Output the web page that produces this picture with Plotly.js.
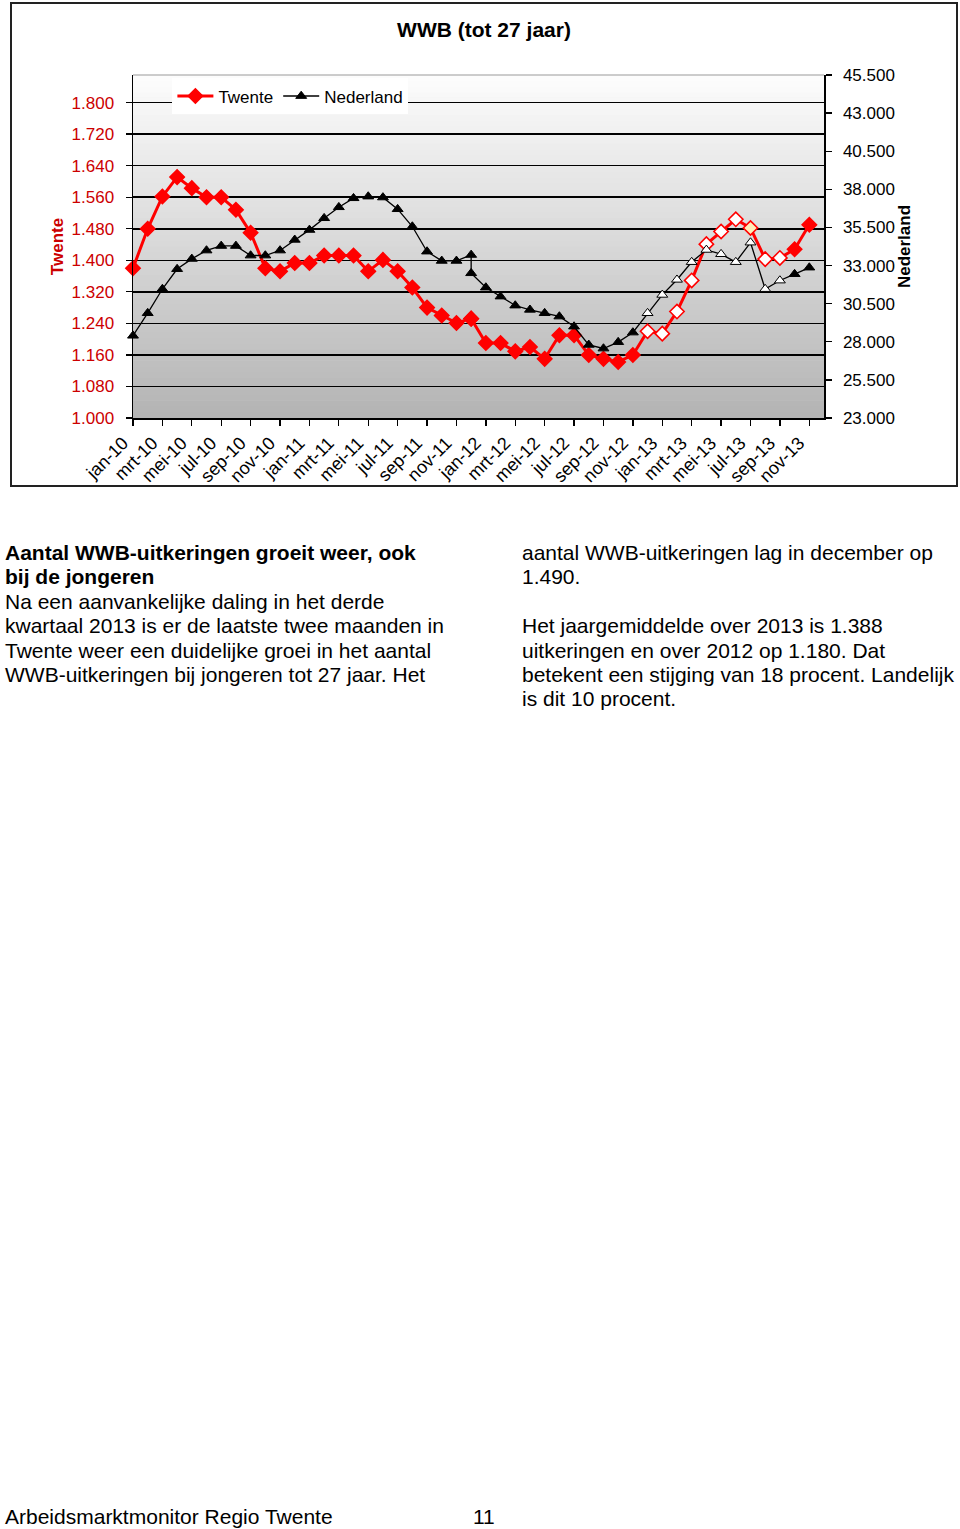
<!DOCTYPE html>
<html>
<head>
<meta charset="utf-8">
<script src="https://cdn.plot.ly/plotly-3.0.1.min.js"></script>
<style>
  html, body { margin: 0; padding: 0; background: #fff; }
  body { width: 960px; height: 1529px; position: relative; overflow: hidden;
         font-family: "Liberation Sans", Arial, sans-serif; color: #000; }
  #frame { position: absolute; left: 10px; top: 2px; width: 948px; height: 485px;
           box-sizing: border-box; border: 2px solid #222; }
  #chart { width: 944px; height: 481px; }
  .txt { position: absolute; font-size: 21px; line-height: 24.4px; white-space: nowrap; }
  .b { font-weight: bold; }
</style>
</head>
<body>
<div id="frame"><div id="chart"></div></div>

<div class="txt" style="left:5px; top:541px;">
<span class="b">Aantal WWB-uitkeringen groeit weer, ook<br>bij de jongeren</span><br>
Na een aanvankelijke daling in het derde<br>
kwartaal 2013 is er de laatste twee maanden in<br>
Twente weer een duidelijke groei in het aantal<br>
WWB-uitkeringen bij jongeren tot 27 jaar. Het
</div>
<div class="txt" style="left:522px; top:541px;">
aantal WWB-uitkeringen lag in december op<br>
1.490.<br>
<br>
Het jaargemiddelde over 2013 is 1.388<br>
uitkeringen en over 2012 op 1.180. Dat<br>
betekent een stijging van 18 procent. Landelijk<br>
is dit 10 procent.
</div>
<div class="txt" style="left:5px; top:1505px;">Arbeidsmarktmonitor Regio Twente</div>
<div class="txt" style="left:473px; top:1505px;">11</div>

<script>
// Position on the month axis of each data point (jan-12 drawn on the dec-11 slot, as in the source)
const xPositie = [
  'jan-10','feb-10','mrt-10','apr-10','mei-10','jun-10','jul-10','aug-10','sep-10','okt-10','nov-10','dec-10',
  'jan-11','feb-11','mrt-11','apr-11','mei-11','jun-11','jul-11','aug-11','sep-11','okt-11','nov-11','dec-11',
  'dec-11','jan-12','feb-12','mrt-12','apr-12','mei-12','jun-12','jul-12','aug-12','sep-12','okt-12','nov-12',
  'dec-12','jan-13','feb-13','mrt-13','apr-13','mei-13','jun-13','jul-13','aug-13','sep-13','okt-13','nov-13'
];
// Axis tick labels
const tickLabels = [
  'jan-10','mrt-10','mei-10','jul-10','sep-10','nov-10',
  'jan-11','mrt-11','mei-11','jul-11','sep-11','nov-11',
  'jan-12','mrt-12','mei-12','jul-12','sep-12','nov-12',
  'jan-13','mrt-13','mei-13','jul-13','sep-13','nov-13'
];
// WWB-uitkeringen jongeren tot 27 jaar
const twente = [
  1380,1480,1562,1611,1583,1560,1560,1528,1470,1380,1372,1393,
  1393,1412,1412,1412,1372,1401,1372,1331,1280,1260,1241,1252,
  1252,1190,1190,1169,1180,1150,1210,1210,1160,1150,1142,1160,
  1220,1214,1270,1349,1441,1473,1504,1482,1403,1406,1428,1490
];
const nederland = [
  28400,29880,31460,32770,33440,33990,34290,34290,33660,33660,33990,34690,
  35340,36110,36830,37420,37530,37470,36700,35560,33920,33310,33310,33700,
  32500,31560,30970,30380,30100,29880,29660,29000,27800,27560,27980,28610,
  29880,31080,32070,33230,34030,33750,33230,34510,31460,32020,32440,32870
];
// Data points drawn with open markers (index range) and the highlighted one
const openVan = 36, openTot = 45, gemarkeerd = 43;

const RED = '#ff0000', DARKRED = '#cc0000';
const FONT = '"Liberation Sans", Arial, sans-serif';

const twFill = twente.map((v, i) => i === gemarkeerd ? '#ffedb8' : (i >= openVan && i <= openTot ? '#ffffff' : RED));
const nlFill = nederland.map((v, i) => (i >= openVan && i <= openTot ? '#ffffff' : '#000000'));

const traces = [
  {
    name: 'Twente', x: xPositie, y: twente, type: 'scatter', mode: 'lines+markers',
    line: { color: RED, width: 3 },
    marker: { symbol: 'diamond', size: 11, color: twFill, line: { color: RED, width: 1.6 } },
    cliponaxis: false, yaxis: 'y'
  },
  {
    name: 'Nederland', x: xPositie, y: nederland, type: 'scatter', mode: 'lines+markers',
    line: { color: '#000000', width: 1.3 },
    marker: { symbol: 'triangle-up', size: 9.5, color: nlFill, line: { color: '#000000', width: 1 } },
    cliponaxis: false, yaxis: 'y2'
  }
];

// Background gradient bands (white at top to grey at bottom)
const shapes = [];
const nBands = 60;
for (let k = 0; k < nBands; k++) {
  const t = k / (nBands - 1);
  const g = Math.round(180 + (252 - 180) * t);
  shapes.push({
    type: 'rect', xref: 'x domain', yref: 'y domain', layer: 'below',
    x0: 0, x1: 1, y0: k / nBands, y1: (k + 1) / nBands + 0.002,
    fillcolor: `rgb(${g},${g},${g})`, line: { width: 0 }
  });
}
shapes.push({ type: 'line', xref: 'x domain', yref: 'y domain', x0: 0, x1: 1, y0: 1, y1: 1,
  line: { color: '#9a9a9a', width: 1 } });

const layout = {
  width: 944, height: 481,
  margin: { l: 121, r: 132, t: 71, b: 67 },
  paper_bgcolor: '#ffffff', plot_bgcolor: '#d8d8d8',
  separators: ',.',
  font: { family: FONT, size: 17, color: '#000' },
  title: { text: 'WWB (tot 27 jaar)', font: { family: FONT, size: 21, color: '#000', weight: 'bold' },
           x: 0.5, xref: 'container', y: 1 - 26 / 481, yref: 'container', yanchor: 'middle' },
  showlegend: true,
  legend: { orientation: 'h', x: 0.057, y: 0.99, xanchor: 'left', yanchor: 'top',
            bgcolor: '#ffffff', borderwidth: 0, font: { family: FONT, size: 17, color: '#000' },
            tracegroupgap: 0, itemwidth: 36 },
  xaxis: {
    type: 'category', range: [0, 47], tickmode: 'array', tickvals: tickLabels, ticktext: tickLabels,
    tickangle: -45, ticks: 'outside', ticklen: 6, tickcolor: '#000', tickwidth: 1.3, ticklabelshift: -10,
    showline: true, linecolor: '#000', linewidth: 1.5, showgrid: false, zeroline: false,
    tickfont: { family: FONT, size: 18, color: '#000' }, fixedrange: true
  },
  yaxis: {
    range: [1000, 1870], tick0: 1000, dtick: 80, tickformat: ',d',
    ticks: 'outside', ticklen: 6, tickcolor: '#000', tickwidth: 1.3, ticklabelstandoff: 8,
    showline: true, linecolor: '#000', linewidth: 1.5,
    showgrid: true, gridcolor: '#000', gridwidth: 1.5, zeroline: false,
    tickfont: { family: FONT, size: 17, color: DARKRED },
    title: { text: 'Twente', font: { family: FONT, size: 17, color: DARKRED, weight: 'bold' }, standoff: 3 },
    fixedrange: true
  },
  yaxis2: {
    overlaying: 'y', side: 'right', range: [23000, 45500], tick0: 23000, dtick: 2500, tickformat: ',d',
    ticks: 'outside', ticklen: 6, tickcolor: '#000', tickwidth: 1.3, ticklabelstandoff: 8,
    showline: true, linecolor: '#000', linewidth: 1.5, showgrid: false, zeroline: false,
    tickfont: { family: FONT, size: 17, color: '#000' },
    title: { text: 'Nederland', font: { family: FONT, size: 17, color: '#000', weight: 'bold' }, standoff: 0 },
    fixedrange: true
  },
  shapes: shapes
};

Plotly.newPlot('chart', traces, layout, { staticPlot: true, displayModeBar: false });
</script>
</body>
</html>
